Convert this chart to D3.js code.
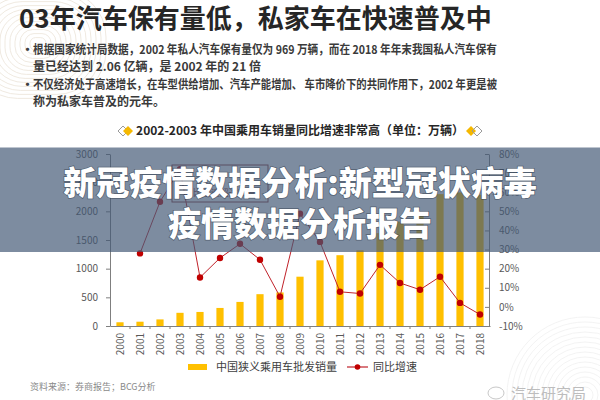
<!DOCTYPE html>
<html>
<head>
<meta charset="utf-8">
<script src="https://cdn.jsdelivr.net/npm/d3@7"></script>
<style>
  html, body { margin: 0; padding: 0; background: #fff; }
  svg { display: block; font-family: "Noto Sans CJK SC", "Noto Sans", sans-serif; }
</style>
</head>
<body>
<div id="chart"></div>
<script>
// datos
const years = ['2000', '2001', '2002', '2003', '2004', '2005', '2006', '2007', '2008', '2009',
               '2010', '2011', '2012', '2013', '2014', '2015', '2016', '2017', '2018'];
const sales = [65, 75, 115, 230, 245, 315, 420, 555, 585, 860,
               1145, 1235, 1320, 1620, 1820, 1990, 2300, 2330, 2290];
const growth = [null, 28, 55, 72, 15.4, 25.6, 33, 24.7, 5.3, 48.8,
                34, 7.9, 7, 22, 12.5, 9, 15.8, 2.1, -4];
const leftTicks = [0, 500, 1000, 1500, 2000, 2500, 3000];
const rightTicks = [-10, 0, 10, 20, 30, 40, 50, 60, 70, 80];

const titleText = '03年汽车保有量低，私家车在快速普及中';
const bullets = [
  ['根据国家统计局数据，2002 年私人汽车保有量仅为 969 万辆，而在 2018 年年末我国私人汽车保有', '量已经达到 2.06 亿辆，是 2002 年的 21 倍'],
  ['不仅经济处于高速增长，在车型供给增加、汽车产能增加、 车市降价下的共同作用下，2002 年更是被', '称为私家车普及的元年。']
];
const chartTitle = '2002-2003 年中国乘用车销量同比增速非常高（单位：万辆）';
const legendNames = ['中国狭义乘用车批发销量', '同比增速'];
const sourceText = '资料来源：券商报告；BCG分析';
const bannerLines = ['新冠疫情数据分析:新型冠状病毒', '疫情数据分析报告'];

const W = 600, H = 400;
const svg = d3.select('#chart').append('svg')
  .attr('width', W).attr('height', H);

// decoracion de fondo (esquinas)
const deco = svg.append('g').attr('fill', 'none').attr('stroke', '#ebe3d8').attr('stroke-width', 0.8);
d3.range(8, 70, 5).forEach(r => {
  deco.append('rect')
    .attr('x', 38 - r).attr('y', 44 - r * 0.8)
    .attr('width', r * 2).attr('height', r * 1.6)
    .attr('rx', r * 0.7);
});
const deco2 = svg.append('g').attr('fill', 'none').attr('stroke', '#f0f0f0').attr('stroke-width', 0.8);
d3.range(8, 80, 5).forEach(r => {
  deco2.append('circle').attr('cx', 585).attr('cy', 395).attr('r', r);
});

// titulo
svg.append('text')
  .attr('x', 19).attr('y', 28)
  .attr('font-size', 26).attr('font-weight', 700)
  .attr('fill', '#262626')
  .text(titleText);

// parrafos
const lineY = [54, 71, 89, 106];
let li = 0;
bullets.forEach(par => {
  svg.append('text')
    .attr('x', 21).attr('y', lineY[li])
    .attr('font-size', 13).attr('font-weight', 700).attr('fill', '#404040')
    .text('·');
  par.forEach((ln, j) => {
    const t = svg.append('text')
      .attr('x', 33).attr('y', lineY[li])
      .attr('font-size', 12).attr('font-weight', 700).attr('fill', '#3a3a3a')
      .text(ln);
    if (j === 0) t.attr('textLength', 464).attr('lengthAdjust', 'spacingAndGlyphs');
    li++;
  });
});

// titulo del grafico con rombos
const ct = svg.append('g');
ct.append('text')
  .attr('x', 300).attr('y', 135)
  .attr('text-anchor', 'middle')
  .attr('font-size', 12).attr('font-weight', 700).attr('fill', '#262626')
  .text(chartTitle);
const diamond = (cx, cy, s) => `M${cx},${cy - s}L${cx + s},${cy}L${cx},${cy + s}L${cx - s},${cy}Z`;
[[123, 'out'], [128, 'fill'], [471, 'fill'], [477, 'out']].forEach(([cx, k]) => {
  ct.append('path')
    .attr('d', diamond(cx, 131, 5))
    .attr('fill', k === 'fill' ? '#f5b800' : 'none')
    .attr('stroke', k === 'fill' ? 'none' : '#9a9a9a')
    .attr('stroke-width', 1);
});

// escalas
const x = d3.scaleBand().domain(years).range([110, 490]);
const yL = d3.scaleLinear().domain([0, 3000]).range([326, 154]);
const yR = d3.scaleLinear().domain([-10, 80]).range([326, 154]);
const barW = x.bandwidth() * 0.36;

// barras
svg.append('g').selectAll('rect')
  .data(years)
  .enter().append('rect')
    .attr('x', (d, i) => x(d) + (x.bandwidth() - barW) / 2)
    .attr('y', (d, i) => yL(sales[i]))
    .attr('width', barW)
    .attr('height', (d, i) => yL(0) - yL(sales[i]))
    .attr('fill', '#ffc000');

// ejes
const axisColor = '#7f7f7f';
const styleAxis = g => {
  g.select('.domain').attr('stroke', axisColor);
  g.selectAll('.tick line').attr('stroke', axisColor);
  g.selectAll('.tick text').attr('fill', '#595959').attr('font-size', 10)
    .attr('font-family', '"Noto Sans CJK SC", sans-serif');
};

svg.append('g')
  .attr('transform', 'translate(110,0)')
  .call(d3.axisLeft(yL).tickValues(leftTicks).tickSizeInner(4).tickSizeOuter(0).tickPadding(8)
    .tickFormat(d3.format('d')))
  .call(styleAxis);

svg.append('g')
  .attr('transform', 'translate(489,0)')
  .call(d3.axisRight(yR).tickValues(rightTicks).tickSizeInner(-4).tickSizeOuter(0).tickPadding(10)
    .tickFormat(d => d + '%'))
  .call(styleAxis);

const xAxis = svg.append('g')
  .attr('transform', 'translate(0,326)')
  .call(d3.axisBottom(x).tickSize(0).tickPadding(0))
  .call(styleAxis);
xAxis.selectAll('.tick text')
  .attr('transform', 'rotate(-90)')
  .attr('text-anchor', 'end')
  .attr('x', -7).attr('y', 0).attr('dy', '0.35em');
// marcas entre categorias
xAxis.selectAll('.sep')
  .data(years.slice(1))
  .enter().append('line')
    .attr('x1', d => x(d)).attr('x2', d => x(d))
    .attr('y1', 0).attr('y2', 3)
    .attr('stroke', axisColor);

// linea de crecimiento
const pts = years.map((d, i) => ({ year: d, v: growth[i] })).filter(p => p.v !== null);
const line = d3.line()
  .x(p => x(p.year) + x.bandwidth() / 2)
  .y(p => yR(p.v));
svg.append('path')
  .datum(pts)
  .attr('d', line)
  .attr('fill', 'none')
  .attr('stroke', '#c0222a')
  .attr('stroke-width', 1);
svg.append('g').selectAll('circle')
  .data(pts)
  .enter().append('circle')
    .attr('cx', p => x(p.year) + x.bandwidth() / 2)
    .attr('cy', p => yR(p.v))
    .attr('r', 3.2)
    .attr('fill', '#c00000');

// cuadro de anotacion (tapado por la banda)
svg.append('rect')
  .attr('x', x('2003') + 2).attr('y', 165)
  .attr('width', x('2008') - x('2003') - 4).attr('height', 37)
  .attr('fill', 'none').attr('stroke', '#8b3a3a').attr('stroke-width', 1);
svg.append('text')
  .attr('x', x('2005') + x.bandwidth() / 2).attr('y', 196)
  .attr('text-anchor', 'middle')
  .attr('font-size', 9).attr('fill', '#8b3a3a')
  .text('同比增速超过55%');

// leyenda
const lg = svg.append('g').attr('font-size', 11).attr('fill', '#404040');
lg.append('rect').attr('x', 188).attr('y', 364).attr('width', 19).attr('height', 6).attr('fill', '#ffc000');
lg.append('text').attr('x', 216).attr('y', 371).text(legendNames[0]);
lg.append('line').attr('x1', 347).attr('x2', 368).attr('y1', 367).attr('y2', 367)
  .attr('stroke', '#c0222a').attr('stroke-width', 1.2);
lg.append('circle').attr('cx', 357.5).attr('cy', 367).attr('r', 2.8).attr('fill', '#c00000');
lg.append('text').attr('x', 373).attr('y', 371).text(legendNames[1]);

// fuente
svg.append('text')
  .attr('x', 30).attr('y', 390)
  .attr('font-size', 9).attr('fill', '#8a8a8a')
  .text(sourceText);

// marca de agua
svg.append('ellipse')
  .attr('cx', 496).attr('cy', 393).attr('rx', 8).attr('ry', 6)
  .attr('fill', 'none').attr('stroke', '#c8c8c8').attr('stroke-width', 1);
svg.append('text')
  .attr('x', 511).attr('y', 399)
  .attr('font-size', 15).attr('fill', '#bdbdbd')
  .text('汽车研究局');

// banda superpuesta
svg.append('rect')
  .attr('x', 0).attr('y', 147.5).attr('width', W).attr('height', 104.5)
  .attr('fill', 'rgb(66,89,117)').attr('fill-opacity', 0.69);
const banner = svg.append('g')
  .attr('text-anchor', 'middle')
  .attr('font-size', 33).attr('font-weight', 900)
  .attr('fill', '#fff')
  .attr('stroke', 'rgba(40,50,65,0.5)').attr('stroke-width', 1.5)
  .attr('paint-order', 'stroke');
banner.append('text').attr('x', 300).attr('y', 195).text(bannerLines[0]);
banner.append('text').attr('x', 300).attr('y', 236).text(bannerLines[1]);
</script>
</body>
</html>
